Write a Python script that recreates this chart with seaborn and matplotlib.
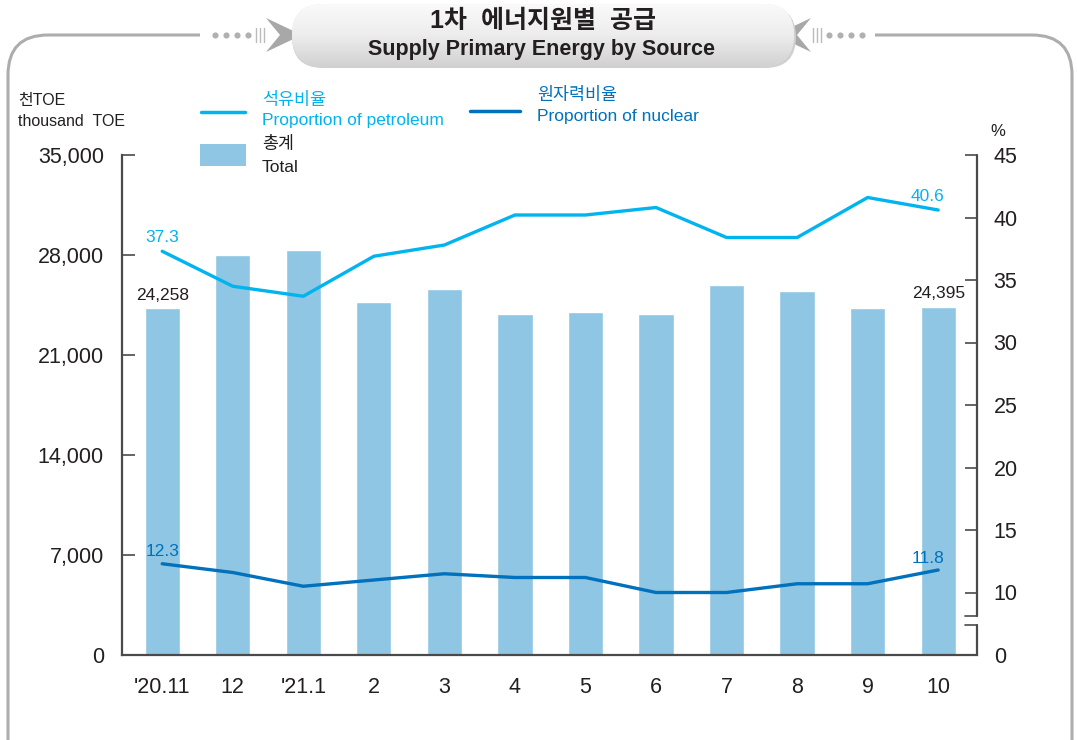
import numpy as np
import pandas as pd
import matplotlib
matplotlib.use('Agg')
import matplotlib.pyplot as plt
import seaborn as sns
from matplotlib.patches import FancyBboxPatch, Rectangle, Polygon

months = ["'20.11", "12", "'21.1", "2", "3", "4", "5", "6", "7", "8", "9", "10"]
total = [24258, 28000, 28350, 24710, 25620, 23870, 24010, 23870, 25900, 25480, 24290, 24395]
petroleum = [37.3, 34.5, 33.7, 36.9, 37.8, 40.2, 40.2, 40.8, 38.4, 38.4, 41.6, 40.6]
nuclear = [12.3, 11.6, 10.5, 11.0, 11.5, 11.2, 11.2, 10.0, 10.0, 10.7, 10.7, 11.8]

left_ticks = [0, 7000, 14000, 21000, 28000, 35000]
right_ticks = [5, 10, 15, 20, 25, 30, 35, 40, 45]   # 5 sits at the axis break, shown as 0
right_labels = ['0', '10', '15', '20', '25', '30', '35', '40', '45']

bar_c = '#8EC6E3'
pet_c = '#00B4EF'
nuc_c = '#0071BC'
txt_c = '#231F20'

df = pd.DataFrame({'month': months, 'total': total,
                   'petroleum': petroleum, 'nuclear': nuclear})
df['pos'] = range(len(df))

sns.set_theme(style='white')
plt.rcParams['font.family'] = ['Liberation Sans', 'Noto Sans CJK KR']

W, H = 1077, 740
fig = plt.figure(figsize=(W / 100, H / 100), dpi=100)

# background / decoration layer in pixel coords
bg = fig.add_axes([0, 0, 1, 1], zorder=-1)
bg.set_xlim(0, W)
bg.set_ylim(H, 0)
bg.axis('off')

frame = FancyBboxPatch((8, 35), 1064, 800, boxstyle='round,pad=0,rounding_size=40',
                       fc='none', ec='#ADADAD', lw=2.2)
bg.add_patch(frame)
bg.add_patch(Rectangle((200, 28), 95, 14, fc='white', ec='none'))
bg.add_patch(Rectangle((790, 28), 85, 14, fc='white', ec='none'))
for x in [215, 226, 237, 248]:
    bg.plot(x, 35, 'o', ms=3.4, color='#B0B0B0')
    bg.plot(W - x, 35, 'o', ms=3.4, color='#B0B0B0')
for k in range(3):
    bg.plot([256 + k * 4, 256 + k * 4], [28, 42], color='#BBBBBB', lw=1)
    bg.plot([W - 256 - k * 4, W - 256 - k * 4], [28, 42], color='#BBBBBB', lw=1)
bg.add_patch(Polygon([[266, 18], [302, 35], [266, 52], [280, 35]], fc='#A8A8A8', ec='none'))
bg.add_patch(Polygon([[W - 266, 18], [W - 302, 35], [W - 266, 52], [W - 280, 35]],
                     fc='#A8A8A8', ec='none'))

shadow = FancyBboxPatch((292, 6), 504, 62, boxstyle='round,pad=0,rounding_size=31',
                        fc='#D0D0D0', ec='none')
bg.add_patch(shadow)
pill = FancyBboxPatch((292, 4), 502, 62, boxstyle='round,pad=0,rounding_size=31',
                      fc='#E6E6E6', ec='none')
bg.add_patch(pill)
grad = np.linspace(0, 1, 100).reshape(-1, 1)
im = bg.imshow(grad, cmap=plt.matplotlib.colors.LinearSegmentedColormap.from_list(
    'g', ['#FAFAFA', '#EDEDED', '#D2D2D2']), extent=(292, 794, 66, 4),
    aspect='auto', zorder=2)
im.set_clip_path(pill)
bg.set_xlim(0, W)
bg.set_ylim(H, 0)
bg.text(543, 21, '1차  에너지원별  공급', ha='center', va='center', fontsize=18,
        fontweight='bold', color=txt_c, zorder=3)
bg.text(541, 50, 'Supply Primary Energy by Source', ha='center', va='center',
        fontsize=15.5, fontweight='bold', color=txt_c, zorder=3)

# axis unit labels
bg.text(18, 100, '천TOE', fontsize=11.5, va='center', color=txt_c)
bg.text(18, 122, 'thousand  TOE', fontsize=11.5, va='center', color=txt_c)
bg.text(990, 132, '%', fontsize=12, va='center', color=txt_c)

# legend
bg.plot([201, 245], [112, 112], color=pet_c, lw=2.5)
bg.text(262, 100, '석유비율', fontsize=12.5, va='center', color=pet_c)
bg.text(262, 121, 'Proportion of petroleum', fontsize=12.5, va='center', color=pet_c)
bg.plot([470, 520], [111, 111], color=nuc_c, lw=2.5)
bg.text(537, 95, '원자력비율', fontsize=12.5, va='center', color=nuc_c)
bg.text(537, 117, 'Proportion of nuclear', fontsize=12.5, va='center', color=nuc_c)
bg.add_patch(Rectangle((200, 144), 46, 22, fc=bar_c, ec='none'))
bg.text(262, 144, '총계', fontsize=12.5, va='center', color=txt_c)
bg.text(262, 168, 'Total', fontsize=12.5, va='center', color=txt_c)

# main chart
ax = fig.add_axes([122 / W, 1 - 655 / H, 855 / W, 500 / H])
ax.patch.set_alpha(0)
sns.barplot(data=df, x='pos', y='total', color=bar_c, saturation=1, width=0.5,
            ax=ax, native_scale=True)
ax.set_xlim(-0.57, 11.55)
ax.set_ylim(0, 35000)
ax.set_yticks(left_ticks)
ax.set_yticklabels([f'{t:,}' for t in left_ticks])
ax.set_xticks(df['pos'])
ax.set_xticklabels(months)
ax.set_xlabel('')
ax.set_ylabel('')
for s in ['top', 'right']:
    ax.spines[s].set_visible(False)
for s in ['left', 'bottom']:
    ax.spines[s].set_color('#4A4A4A')
    ax.spines[s].set_linewidth(1.6)
ax.tick_params(axis='y', direction='in', length=9, width=1.2, color='#4A4A4A',
               labelsize=15.5, labelcolor=txt_c, pad=13, left=True)
ax.tick_params(axis='x', length=0, labelsize=15.5, labelcolor=txt_c, pad=16)

ax.text(0, total[0] + 350, f'{total[0]:,}', ha='center', va='bottom', fontsize=12.5, color=txt_c)
ax.text(11, total[-1] + 350, f'{total[-1]:,}', ha='center', va='bottom', fontsize=12.5, color=txt_c)

ax2 = ax.twinx()
sns.lineplot(data=df, x='pos', y='petroleum', color=pet_c, lw=2.4, ax=ax2)
sns.lineplot(data=df, x='pos', y='nuclear', color=nuc_c, lw=2.4, ax=ax2)
ax2.set_ylim(5, 45)
ax2.set_xlim(-0.57, 11.55)
ax2.set_yticks(right_ticks)
ax2.set_yticklabels(right_labels)
ax2.set_ylabel('')
ax2.set_xlabel('')
for s in ax2.spines.values():
    s.set_visible(False)
ax2.tick_params(axis='y', direction='in', length=9, width=1.2, color='#4A4A4A',
                labelsize=15.5, labelcolor=txt_c, pad=12, right=True)

# right spine with break
tr = ax2.get_yaxis_transform()
ax2.plot([1, 1], [45, 8.1], color='#4A4A4A', lw=1.6, transform=tr, clip_on=False)
ax2.plot([1, 1], [7.4, 5], color='#4A4A4A', lw=1.6, transform=tr, clip_on=False)
ax2.plot([0.986, 1], [8.1, 8.1], color='#4A4A4A', lw=1.2, transform=tr, clip_on=False)
ax2.plot([0.986, 1], [7.4, 7.4], color='#4A4A4A', lw=1.2, transform=tr, clip_on=False)

ax2.text(0, petroleum[0] + 0.5, f'{petroleum[0]}', ha='center', va='bottom', fontsize=12.5, color=pet_c)
ax2.text(10.85, petroleum[-1] + 0.5, f'{petroleum[-1]}', ha='center', va='bottom', fontsize=12.5, color=pet_c)
ax2.text(0, nuclear[0] + 0.35, f'{nuclear[0]}', ha='center', va='bottom', fontsize=12.5, color=nuc_c)
ax2.text(10.85, nuclear[-1] + 0.35, f'{nuclear[-1]}', ha='center', va='bottom', fontsize=12.5, color=nuc_c)

fig.savefig('out.png', dpi=100)
